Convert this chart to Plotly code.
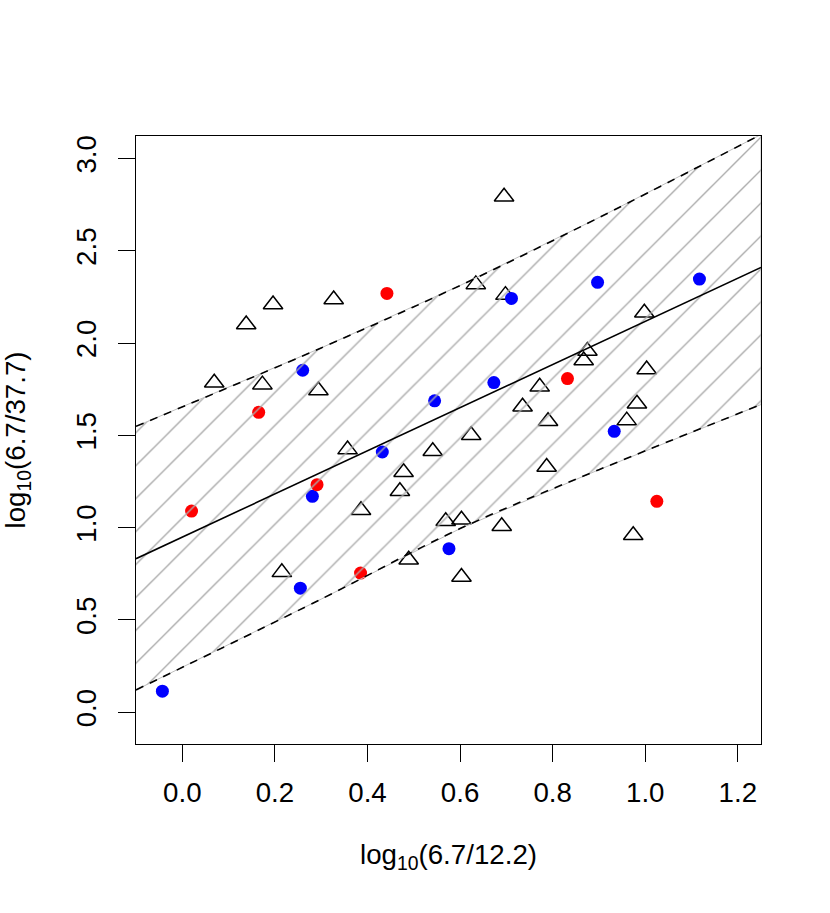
import plotly.graph_objects as go

# --- data ---
# open triangles
tri_x = [0.069, 0.138, 0.196, 0.173, 0.294, 0.327, 0.357, 0.386, 0.470, 0.478,
         0.489, 0.215, 0.541, 0.569, 0.603, 0.603, 0.624, 0.634, 0.695, 0.698,
         0.690, 0.735, 0.772, 0.790, 0.787, 0.867, 0.875, 0.960, 0.982, 0.998,
         1.003, 0.974]
tri_y = [1.785, 2.101, 2.209, 1.775, 1.743, 2.236, 1.423, 1.094, 1.197, 1.300,
         0.826, 0.758, 1.414, 1.035, 1.043, 0.733, 1.501, 2.318, 2.793, 2.260,
         1.008, 1.655, 1.763, 1.577, 1.329, 1.906, 1.957, 1.580, 1.671, 2.164,
         1.857, 0.959]

# blue dots
blue_x = [-0.043, 0.255, 0.281, 0.260, 0.432, 0.545, 0.576, 0.673, 0.711, 0.897,
          0.933, 1.117]
blue_y = [0.114, 0.672, 1.170, 1.853, 1.410, 1.687, 0.886, 1.786, 2.242, 2.329,
          1.522, 2.347]

# red dots
red_x = [0.020, 0.165, 0.291, 0.385, 0.442, 0.832, 1.025]
red_y = [1.090, 1.625, 1.233, 0.754, 2.269, 1.808, 1.143]

# fitted line and prediction band
fit_x = [-0.1, 1.25]
fit_y = [0.832, 2.410]
band_x = [-0.1, 0.3, 0.6, 0.9, 1.25]
band_upper = [1.549, 1.974, 2.312, 2.680, 3.130]
band_lower = [0.121, 0.613, 0.995, 1.314, 1.667]

x_ticks = [0.0, 0.2, 0.4, 0.6, 0.8, 1.0, 1.2]
y_ticks = [0.0, 0.5, 1.0, 1.5, 2.0, 2.5, 3.0]

FONT = "Liberation Sans, Arial, Helvetica, sans-serif"
FS = 27.7

fig = go.Figure()

# puntos primero, el rayado va encima
fig.add_trace(go.Scatter(
    x=tri_x, y=tri_y, mode="markers",
    marker=dict(symbol="triangle-up-open", size=17, color="black",
                line=dict(width=1.5, color="black")),
))
fig.add_trace(go.Scatter(
    x=blue_x, y=blue_y, mode="markers",
    marker=dict(symbol="circle", size=13, color="#0000FF", line=dict(width=0)),
))
fig.add_trace(go.Scatter(
    x=red_x, y=red_y, mode="markers",
    marker=dict(symbol="circle", size=13, color="#FF0000", line=dict(width=0)),
))

# hatched band
fig.add_trace(go.Scatter(
    x=band_x + band_x[::-1],
    y=band_upper + band_lower[::-1],
    mode="lines", fill="toself",
    fillcolor="rgba(0,0,0,0)",
    line=dict(color="#BEBEBE", width=1),
    fillpattern=dict(shape="/", fgcolor="#ABABAB", bgcolor="rgba(0,0,0,0)",
                     size=23.3, solidity=0.06, fillmode="replace"),
))

# prediction limits (dashed) and fit (solid)
for yy in (band_upper, band_lower):
    fig.add_trace(go.Scatter(
        x=band_x, y=yy, mode="lines",
        line=dict(color="black", width=1.6, dash="8px,7px", shape="spline"),
    ))
fig.add_trace(go.Scatter(
    x=fit_x, y=fit_y, mode="lines",
    line=dict(color="black", width=1.6),
))

axis_common = dict(
    showline=True, mirror=True, linecolor="black", linewidth=1.4,
    ticks="outside", ticklen=16.6, tickwidth=1.4, tickcolor="black",
    showgrid=False, zeroline=False, tickformat=".1f",
    tickfont=dict(family=FONT, size=FS, color="black"),
)

fig.update_xaxes(
    range=[-0.1, 1.25], tickvals=x_ticks, ticklabelstandoff=7,
    title=dict(text="log<sub>10</sub>(6.7/12.2)", standoff=37,
               font=dict(family=FONT, size=FS, color="black")),
    **axis_common,
)
fig.update_yaxes(
    range=[-0.172, 3.122], tickvals=y_ticks, tickangle=-90, ticklabelstandoff=11,
    title=dict(text="log<sub>10</sub>(6.7/37.7)", standoff=47,
               font=dict(family=FONT, size=FS, color="black")),
    **axis_common,
)

fig.update_layout(
    width=830, height=913,
    margin=dict(l=136, r=69, t=136, b=169, autoexpand=False),
    paper_bgcolor="white", plot_bgcolor="white",
    showlegend=False,
    font=dict(family=FONT, size=FS, color="black"),
)

# quitar el margen por defecto del body para que la figura ocupe toda la ventana
fig.write_html(
    "out.html",
    config={"displayModeBar": False},
    post_script="document.body.style.margin='0';document.body.style.overflow='hidden';",
)
